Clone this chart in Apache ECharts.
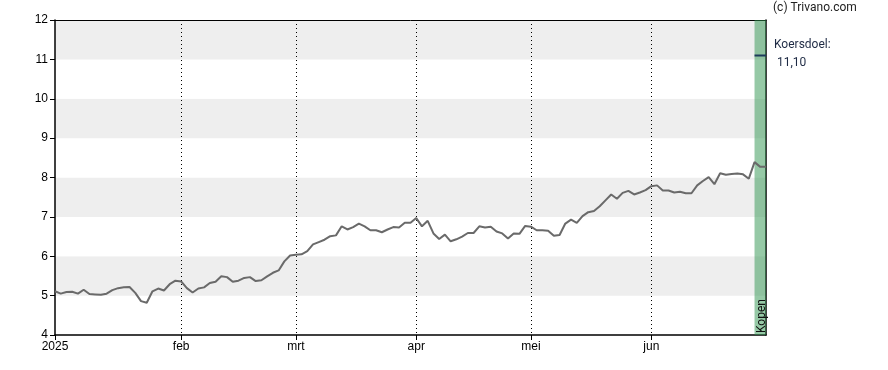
<!DOCTYPE html>
<html>
<head>
<meta charset="utf-8">
<script src="https://cdn.jsdelivr.net/npm/echarts@6/dist/echarts.min.js"></script>
<style>html,body{margin:0;padding:0;background:#fff;}#c{width:888px;height:370px;}</style>
</head>
<body>
<div id="c"></div>
<script>
// Trading days per month (2025), day-of-month lists
const tradingDays = [
  ['2025-01', [2,3,6,7,8,9,10,13,14,15,16,17,20,21,22,23,24,27,28,29,30,31]],
  ['2025-02', [3,4,5,6,7,10,11,12,13,14,17,18,19,20,21,24,25,26,27,28]],
  ['2025-03', [3,4,5,6,7,10,11,12,13,14,17,18,19,20,21,24,25,26,27,28,31]],
  ['2025-04', [1,2,3,4,7,8,9,10,11,14,15,16,17,22,23,24,25,28,29,30]],
  ['2025-05', [2,5,6,7,8,9,12,13,14,15,16,19,20,21,22,23,26,27,28,29,30]],
  ['2025-06', [2,3,4,5,6,9,10,11,12,13,16,17,18,19,20,23,24,25,26,27,30]]
];
const monthLabels = ['2025', 'feb', 'mrt', 'apr', 'mei', 'jun'];
const prices = [
  5.11,5.05,5.09,5.10,5.05,5.15,5.04,5.03,5.02,5.05,5.14,5.19,5.21,5.22,5.07,4.86,4.82,5.11,5.18,5.13,5.29,5.38,
  5.36,5.19,5.08,5.18,5.21,5.32,5.35,5.49,5.47,5.35,5.38,5.45,5.47,5.37,5.39,5.49,5.58,5.64,5.87,6.02,
  6.04,6.05,6.13,6.30,6.36,6.42,6.51,6.53,6.76,6.68,6.74,6.83,6.76,6.66,6.66,6.61,6.68,6.74,6.73,6.85,6.85,
  6.97,6.76,6.90,6.58,6.44,6.55,6.38,6.43,6.50,6.59,6.59,6.76,6.73,6.75,6.63,6.58,6.45,6.58,6.57,6.77,
  6.75,6.66,6.66,6.65,6.52,6.54,6.83,6.93,6.85,7.02,7.12,7.15,7.27,7.42,7.57,7.46,7.61,7.66,7.57,7.62,7.68,
  7.78,7.80,7.67,7.67,7.62,7.64,7.60,7.60,7.80,7.91,8.01,7.83,8.11,8.07,8.09,8.10,8.08,7.97,8.39,8.27,8.27
];
const yTicks = { min: 4, max: 12, step: 1 };
const targetPrice = 11.10;
const targetLabel = '11,10';
const adviceLabel = 'Kopen';
const adviceStartIndex = 122;

const categories = [];
const firstOfMonth = {};
tradingDays.forEach(function (m, mi) {
  m[1].forEach(function (d, di) {
    if (di === 0) firstOfMonth[categories.length] = monthLabels[mi];
    categories.push(m[0] + '-' + (d < 10 ? '0' + d : d));
  });
});
const lastIndex = categories.length - 1;
const targetData = categories.map(function (c, i) { return i >= adviceStartIndex ? targetPrice : null; });
const isMonthStart = function (i) { return firstOfMonth.hasOwnProperty(i); };

const chart = echarts.init(document.getElementById('c'), null, { renderer: 'canvas' });
chart.setOption({
  animation: false,
  backgroundColor: '#ffffff',
  grid: { left: 55, right: 122, top: 20, bottom: 35, containLabel: false },
  xAxis: [{
    type: 'category',
    data: categories,
    boundaryGap: false,
    axisLine: { show: true, lineStyle: { color: '#000', width: 1.5 } },
    axisTick: { show: true, length: 5, interval: function (i) { return isMonthStart(i); }, lineStyle: { color: '#000' } },
    axisLabel: {
      interval: function (i) { return isMonthStart(i); },
      formatter: function (v, i) { return firstOfMonth[i] || ''; },
      fontFamily: 'Liberation Sans', fontSize: 12, color: '#000', margin: 6
    },
    splitLine: {
      show: true,
      interval: function (i) { return isMonthStart(i) && i > 0; },
      lineStyle: { color: '#000', type: [1, 3], width: 1 }
    }
  }, {
    type: 'category',
    data: categories,
    position: 'top',
    boundaryGap: false,
    axisLine: { show: true, lineStyle: { color: '#000', width: 1 } },
    axisTick: { show: false }, axisLabel: { show: false }, splitLine: { show: false }
  }],
  yAxis: [{
    type: 'value',
    min: yTicks.min, max: yTicks.max, interval: yTicks.step,
    axisLine: { show: true, lineStyle: { color: '#000', width: 1.5 } },
    axisTick: { show: true, length: 5, lineStyle: { color: '#000' } },
    axisLabel: { fontFamily: 'Liberation Sans', fontSize: 12, color: '#000', margin: 7 },
    splitLine: { show: false },
    splitArea: { show: true, areaStyle: { color: ['#ffffff', '#eeeeee'] } }
  }, {
    type: 'value',
    position: 'right',
    min: yTicks.min, max: yTicks.max, interval: yTicks.step,
    axisLine: { show: true, lineStyle: { color: '#000', width: 1.5 } },
    axisTick: { show: false }, axisLabel: { show: false }, splitLine: { show: false }
  }],
  series: [{
    type: 'line',
    data: prices,
    symbol: 'none',
    lineStyle: { color: '#6a6a6a', width: 2 },
    z: 3,
    markArea: {
      silent: true,
      itemStyle: { color: 'rgba(45,147,77,0.5)' },
      data: [[{ xAxis: adviceStartIndex }, { xAxis: lastIndex }]]
    }
  }, {
    type: 'line',
    data: targetData,
    symbol: 'none',
    lineStyle: { color: '#1c3a5a', width: 2 },
    z: 4
  }],
  graphic: [
    { type: 'text', left: 773, top: 2, style: { text: '(c) Trivano.com', font: '12px Roboto', fill: '#222' } },
    { type: 'text', left: 774, top: 39, style: { text: 'Koersdoel:', font: '12px Roboto', fill: '#1e2a44' } },
    { type: 'text', left: 777, top: 57, style: { text: targetLabel, font: '12px Roboto', fill: '#1e2a44' } },
    { type: 'text', x: 768, y: 333, rotation: Math.PI / 2, style: { text: adviceLabel, font: '12px Roboto', fill: '#111', textAlign: 'left', textVerticalAlign: 'bottom' }, z: 10 }
  ]
});
</script>
</body>
</html>
